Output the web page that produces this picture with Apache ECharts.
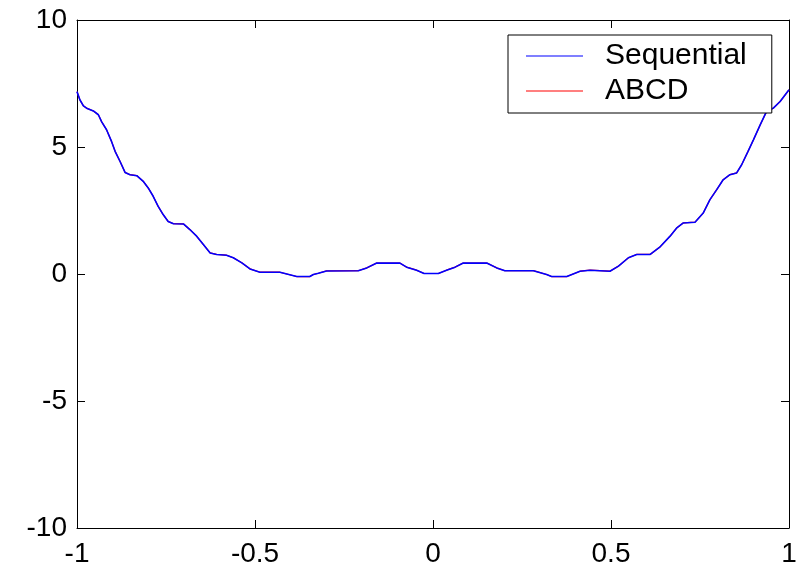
<!DOCTYPE html>
<html>
<head>
<meta charset="utf-8">
<script src="https://cdn.jsdelivr.net/npm/echarts@6/dist/echarts.min.js"></script>
<style>
html,body{margin:0;padding:0;background:#fff;}
#chart{width:802px;height:568px;}
</style>
</head>
<body>
<div id="chart"></div>
<script>
var xValues = [-1, -0.992, -0.982, -0.973, -0.954, -0.94, -0.931, -0.917, -0.903, -0.893, -0.879, -0.865, -0.851, -0.832, -0.814, -0.8, -0.786, -0.772, -0.758, -0.744, -0.729, -0.701, -0.683, -0.664, -0.645, -0.626, -0.608, -0.58, -0.561, -0.537, -0.514, -0.486, -0.43, -0.383, -0.346, -0.336, -0.322, -0.299, -0.21, -0.186, -0.158, -0.093, -0.074, -0.046, -0.025, 0.015, 0.038, 0.062, 0.085, 0.151, 0.179, 0.202, 0.282, 0.319, 0.333, 0.376, 0.413, 0.441, 0.497, 0.521, 0.549, 0.572, 0.61, 0.638, 0.666, 0.685, 0.703, 0.736, 0.759, 0.778, 0.797, 0.815, 0.834, 0.853, 0.867, 0.885, 0.9, 0.919, 0.937, 0.956, 0.975, 1.0];
var sequentialValues = [7.18, 6.86, 6.62, 6.53, 6.42, 6.27, 6.0, 5.68, 5.22, 4.83, 4.43, 4.0, 3.91, 3.87, 3.65, 3.39, 3.06, 2.66, 2.34, 2.07, 1.98, 1.97, 1.75, 1.49, 1.16, 0.83, 0.77, 0.74, 0.64, 0.44, 0.2, 0.07, 0.07, -0.1, -0.1, -0.02, 0.03, 0.12, 0.13, 0.24, 0.43, 0.43, 0.27, 0.15, 0.02, 0.02, 0.15, 0.27, 0.43, 0.43, 0.24, 0.13, 0.13, -0.02, -0.1, -0.1, 0.11, 0.15, 0.11, 0.31, 0.64, 0.77, 0.77, 1.07, 1.49, 1.82, 2.01, 2.04, 2.4, 2.93, 3.32, 3.71, 3.91, 3.98, 4.3, 4.83, 5.28, 5.87, 6.4, 6.53, 6.79, 7.25];
var abcdValues = sequentialValues.slice();
var seriesNames = ['Sequential', 'ABCD'];
var xTicks = {min: -1, max: 1, interval: 0.5};
var yTicks = {min: -10, max: 10, interval: 5};

function pairs(xs, ys) {
  return xs.map(function (x, i) { return [x, ys[i]]; });
}

var font = '"Liberation Sans", Arial, sans-serif';
var axisLine = {show: true, onZero: false, lineStyle: {color: '#000', width: 1}};
var tick = {show: true, inside: true, length: 8, lineStyle: {color: '#000', width: 1}};

var chart = echarts.init(document.getElementById('chart'), null, {renderer: 'canvas'});
chart.setOption({
  animation: false,
  backgroundColor: '#fff',
  grid: {left: 77, right: 13, top: 20, bottom: 39, containLabel: false},
  legend: {
    data: seriesNames,
    orient: 'vertical',
    left: 508,
    top: 35,
    backgroundColor: '#fff',
    borderColor: '#000',
    borderWidth: 1,
    borderRadius: 0,
    padding: [6, 25, 7, 18],
    itemGap: 5,
    itemWidth: 57,
    itemHeight: 14,
    icon: 'path://M0,6.5L57,6.5L57,7.7L0,7.7Z',
    textStyle: {fontFamily: font, fontSize: 30, color: '#000', lineHeight: 30, padding: [0, 0, 0, 17]},
    selectedMode: false
  },
  xAxis: [{
    type: 'value', position: 'bottom',
    min: xTicks.min, max: xTicks.max, interval: xTicks.interval,
    axisLine: axisLine, axisTick: tick, splitLine: {show: false},
    axisLabel: {fontFamily: font, fontSize: 28, color: '#000', margin: 12}
  }, {
    type: 'value', position: 'top',
    min: xTicks.min, max: xTicks.max, interval: xTicks.interval,
    axisLine: axisLine, axisTick: tick, splitLine: {show: false},
    axisLabel: {show: false}
  }],
  yAxis: [{
    type: 'value', position: 'left',
    min: yTicks.min, max: yTicks.max, interval: yTicks.interval,
    axisLine: axisLine, axisTick: tick, splitLine: {show: false},
    axisLabel: {fontFamily: font, fontSize: 28, color: '#000', margin: 10}
  }, {
    type: 'value', position: 'right',
    min: yTicks.min, max: yTicks.max, interval: yTicks.interval,
    axisLine: axisLine, axisTick: tick, splitLine: {show: false},
    axisLabel: {show: false}
  }],
  series: [{
    name: 'ABCD',
    type: 'line',
    data: pairs(xValues, abcdValues),
    symbol: 'none',
    color: '#ff0000',
    lineStyle: {color: '#ff0000', width: 1.2},
    z: 1
  }, {
    name: 'Sequential',
    type: 'line',
    data: pairs(xValues, sequentialValues),
    symbol: 'none',
    color: '#0000ff',
    lineStyle: {color: '#0000ff', width: 1.6},
    z: 3
  }]
});
</script>
</body>
</html>
